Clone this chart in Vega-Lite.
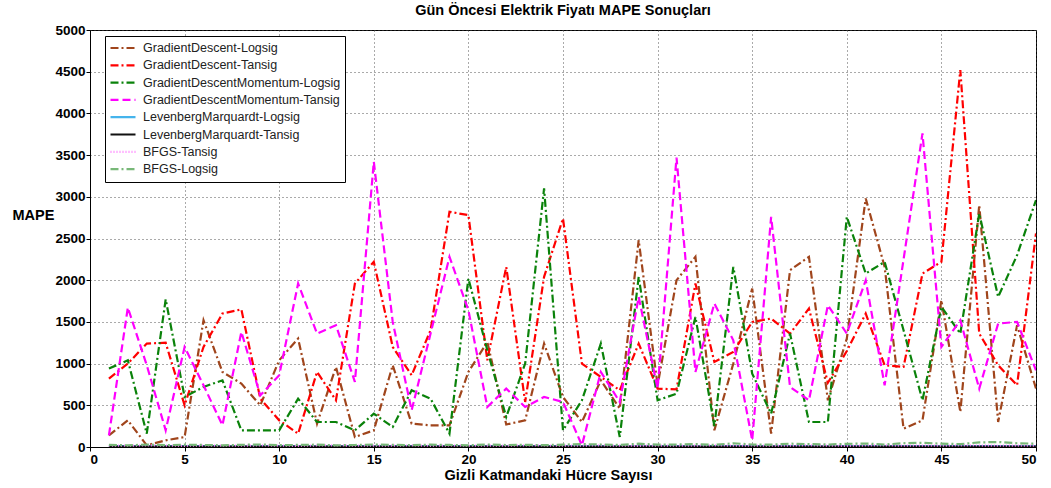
{
  "$schema": "https://vega.github.io/schema/vega-lite/v6.json",
  "width": 946,
  "height": 417,
  "autosize": {"type": "none"},
  "padding": {"left": 90, "top": 30, "right": 15, "bottom": 41},
  "background": "white",
  "config": {
    "view": {"stroke": "black", "strokeWidth": 1},
    "font": "Liberation Sans"
  },
  "title": {"text": "Gün Öncesi Elektrik Fiyatı MAPE Sonuçları", "fontSize": 14.5, "font": "Liberation Sans", "fontWeight": "bold", "offset": 5, "anchor": "middle", "color": "black"},
  "data": {"values": [
    {"x":1,"GradientDescent-Logsig":140,"GradientDescent-Tansig":820,"GradientDescentMomentum-Logsig":940,"GradientDescentMomentum-Tansig":140,"LevenbergMarquardt-Logsig":12,"LevenbergMarquardt-Tansig":5,"BFGS-Tansig":18,"BFGS-Logsig":25},
    {"x":2,"GradientDescent-Logsig":320,"GradientDescent-Tansig":1000,"GradientDescentMomentum-Logsig":1040,"GradientDescentMomentum-Tansig":1672,"LevenbergMarquardt-Logsig":10,"LevenbergMarquardt-Tansig":4,"BFGS-Tansig":15,"BFGS-Logsig":20},
    {"x":3,"GradientDescent-Logsig":20,"GradientDescent-Tansig":1240,"GradientDescentMomentum-Logsig":160,"GradientDescentMomentum-Tansig":980,"LevenbergMarquardt-Logsig":8,"LevenbergMarquardt-Tansig":6,"BFGS-Tansig":20,"BFGS-Logsig":30},
    {"x":4,"GradientDescent-Logsig":80,"GradientDescent-Tansig":1250,"GradientDescentMomentum-Logsig":1770,"GradientDescentMomentum-Tansig":200,"LevenbergMarquardt-Logsig":9,"LevenbergMarquardt-Tansig":5,"BFGS-Tansig":16,"BFGS-Logsig":22},
    {"x":5,"GradientDescent-Logsig":120,"GradientDescent-Tansig":500,"GradientDescentMomentum-Logsig":600,"GradientDescentMomentum-Tansig":1200,"LevenbergMarquardt-Logsig":11,"LevenbergMarquardt-Tansig":4,"BFGS-Tansig":14,"BFGS-Logsig":28},
    {"x":6,"GradientDescent-Logsig":1520,"GradientDescent-Tansig":1200,"GradientDescentMomentum-Logsig":720,"GradientDescentMomentum-Tansig":740,"LevenbergMarquardt-Logsig":10,"LevenbergMarquardt-Tansig":5,"BFGS-Tansig":18,"BFGS-Logsig":24},
    {"x":7,"GradientDescent-Logsig":900,"GradientDescent-Tansig":1600,"GradientDescentMomentum-Logsig":800,"GradientDescentMomentum-Tansig":260,"LevenbergMarquardt-Logsig":9,"LevenbergMarquardt-Tansig":6,"BFGS-Tansig":17,"BFGS-Logsig":20},
    {"x":8,"GradientDescent-Logsig":760,"GradientDescent-Tansig":1650,"GradientDescentMomentum-Logsig":200,"GradientDescentMomentum-Tansig":1380,"LevenbergMarquardt-Logsig":8,"LevenbergMarquardt-Tansig":4,"BFGS-Tansig":15,"BFGS-Logsig":26},
    {"x":9,"GradientDescent-Logsig":500,"GradientDescent-Tansig":580,"GradientDescentMomentum-Logsig":200,"GradientDescentMomentum-Tansig":620,"LevenbergMarquardt-Logsig":10,"LevenbergMarquardt-Tansig":5,"BFGS-Tansig":19,"BFGS-Logsig":30},
    {"x":10,"GradientDescent-Logsig":1040,"GradientDescent-Tansig":320,"GradientDescentMomentum-Logsig":200,"GradientDescentMomentum-Tansig":860,"LevenbergMarquardt-Logsig":12,"LevenbergMarquardt-Tansig":5,"BFGS-Tansig":16,"BFGS-Logsig":22},
    {"x":11,"GradientDescent-Logsig":1300,"GradientDescent-Tansig":160,"GradientDescentMomentum-Logsig":580,"GradientDescentMomentum-Tansig":1960,"LevenbergMarquardt-Logsig":9,"LevenbergMarquardt-Tansig":4,"BFGS-Tansig":14,"BFGS-Logsig":25},
    {"x":12,"GradientDescent-Logsig":280,"GradientDescent-Tansig":900,"GradientDescentMomentum-Logsig":300,"GradientDescentMomentum-Tansig":1360,"LevenbergMarquardt-Logsig":8,"LevenbergMarquardt-Tansig":6,"BFGS-Tansig":18,"BFGS-Logsig":28},
    {"x":13,"GradientDescent-Logsig":960,"GradientDescent-Tansig":560,"GradientDescentMomentum-Logsig":300,"GradientDescentMomentum-Tansig":1460,"LevenbergMarquardt-Logsig":10,"LevenbergMarquardt-Tansig":5,"BFGS-Tansig":20,"BFGS-Logsig":20},
    {"x":14,"GradientDescent-Logsig":120,"GradientDescent-Tansig":1960,"GradientDescentMomentum-Logsig":200,"GradientDescentMomentum-Tansig":780,"LevenbergMarquardt-Logsig":11,"LevenbergMarquardt-Tansig":4,"BFGS-Tansig":15,"BFGS-Logsig":24},
    {"x":15,"GradientDescent-Logsig":200,"GradientDescent-Tansig":2220,"GradientDescentMomentum-Logsig":400,"GradientDescentMomentum-Tansig":3420,"LevenbergMarquardt-Logsig":9,"LevenbergMarquardt-Tansig":5,"BFGS-Tansig":17,"BFGS-Logsig":30},
    {"x":16,"GradientDescent-Logsig":980,"GradientDescent-Tansig":1200,"GradientDescentMomentum-Logsig":240,"GradientDescentMomentum-Tansig":1500,"LevenbergMarquardt-Logsig":10,"LevenbergMarquardt-Tansig":6,"BFGS-Tansig":16,"BFGS-Logsig":26},
    {"x":17,"GradientDescent-Logsig":280,"GradientDescent-Tansig":860,"GradientDescentMomentum-Logsig":680,"GradientDescentMomentum-Tansig":440,"LevenbergMarquardt-Logsig":12,"LevenbergMarquardt-Tansig":5,"BFGS-Tansig":19,"BFGS-Logsig":22},
    {"x":18,"GradientDescent-Logsig":260,"GradientDescent-Tansig":1400,"GradientDescentMomentum-Logsig":580,"GradientDescentMomentum-Tansig":1360,"LevenbergMarquardt-Logsig":10,"LevenbergMarquardt-Tansig":4,"BFGS-Tansig":14,"BFGS-Logsig":28},
    {"x":19,"GradientDescent-Logsig":260,"GradientDescent-Tansig":2820,"GradientDescentMomentum-Logsig":160,"GradientDescentMomentum-Tansig":2280,"LevenbergMarquardt-Logsig":9,"LevenbergMarquardt-Tansig":5,"BFGS-Tansig":18,"BFGS-Logsig":25},
    {"x":20,"GradientDescent-Logsig":900,"GradientDescent-Tansig":2780,"GradientDescentMomentum-Logsig":2020,"GradientDescentMomentum-Tansig":1640,"LevenbergMarquardt-Logsig":11,"LevenbergMarquardt-Tansig":6,"BFGS-Tansig":15,"BFGS-Logsig":20},
    {"x":21,"GradientDescent-Logsig":1260,"GradientDescent-Tansig":1040,"GradientDescentMomentum-Logsig":1160,"GradientDescentMomentum-Tansig":480,"LevenbergMarquardt-Logsig":10,"LevenbergMarquardt-Tansig":5,"BFGS-Tansig":17,"BFGS-Logsig":30},
    {"x":22,"GradientDescent-Logsig":270,"GradientDescent-Tansig":2160,"GradientDescentMomentum-Logsig":360,"GradientDescentMomentum-Tansig":700,"LevenbergMarquardt-Logsig":8,"LevenbergMarquardt-Tansig":4,"BFGS-Tansig":16,"BFGS-Logsig":24},
    {"x":23,"GradientDescent-Logsig":320,"GradientDescent-Tansig":540,"GradientDescentMomentum-Logsig":1000,"GradientDescentMomentum-Tansig":480,"LevenbergMarquardt-Logsig":12,"LevenbergMarquardt-Tansig":6,"BFGS-Tansig":20,"BFGS-Logsig":26},
    {"x":24,"GradientDescent-Logsig":1240,"GradientDescent-Tansig":2040,"GradientDescentMomentum-Logsig":3100,"GradientDescentMomentum-Tansig":600,"LevenbergMarquardt-Logsig":10,"LevenbergMarquardt-Tansig":5,"BFGS-Tansig":18,"BFGS-Logsig":22},
    {"x":25,"GradientDescent-Logsig":600,"GradientDescent-Tansig":2740,"GradientDescentMomentum-Logsig":200,"GradientDescentMomentum-Tansig":540,"LevenbergMarquardt-Logsig":9,"LevenbergMarquardt-Tansig":4,"BFGS-Tansig":15,"BFGS-Logsig":28},
    {"x":26,"GradientDescent-Logsig":300,"GradientDescent-Tansig":1000,"GradientDescentMomentum-Logsig":560,"GradientDescentMomentum-Tansig":20,"LevenbergMarquardt-Logsig":11,"LevenbergMarquardt-Tansig":5,"BFGS-Tansig":17,"BFGS-Logsig":35},
    {"x":27,"GradientDescent-Logsig":800,"GradientDescent-Tansig":840,"GradientDescentMomentum-Logsig":1240,"GradientDescentMomentum-Tansig":900,"LevenbergMarquardt-Logsig":10,"LevenbergMarquardt-Tansig":6,"BFGS-Tansig":19,"BFGS-Logsig":30},
    {"x":28,"GradientDescent-Logsig":460,"GradientDescent-Tansig":680,"GradientDescentMomentum-Logsig":120,"GradientDescentMomentum-Tansig":540,"LevenbergMarquardt-Logsig":9,"LevenbergMarquardt-Tansig":5,"BFGS-Tansig":16,"BFGS-Logsig":25},
    {"x":29,"GradientDescent-Logsig":2480,"GradientDescent-Tansig":1240,"GradientDescentMomentum-Logsig":2040,"GradientDescentMomentum-Tansig":1800,"LevenbergMarquardt-Logsig":8,"LevenbergMarquardt-Tansig":4,"BFGS-Tansig":14,"BFGS-Logsig":40},
    {"x":30,"GradientDescent-Logsig":740,"GradientDescent-Tansig":700,"GradientDescentMomentum-Logsig":560,"GradientDescentMomentum-Tansig":700,"LevenbergMarquardt-Logsig":10,"LevenbergMarquardt-Tansig":5,"BFGS-Tansig":18,"BFGS-Logsig":28},
    {"x":31,"GradientDescent-Logsig":2000,"GradientDescent-Tansig":690,"GradientDescentMomentum-Logsig":640,"GradientDescentMomentum-Tansig":3470,"LevenbergMarquardt-Logsig":11,"LevenbergMarquardt-Tansig":6,"BFGS-Tansig":15,"BFGS-Logsig":30},
    {"x":32,"GradientDescent-Logsig":2280,"GradientDescent-Tansig":1960,"GradientDescentMomentum-Logsig":1560,"GradientDescentMomentum-Tansig":900,"LevenbergMarquardt-Logsig":9,"LevenbergMarquardt-Tansig":4,"BFGS-Tansig":17,"BFGS-Logsig":35},
    {"x":33,"GradientDescent-Logsig":200,"GradientDescent-Tansig":1020,"GradientDescentMomentum-Logsig":250,"GradientDescentMomentum-Tansig":1720,"LevenbergMarquardt-Logsig":10,"LevenbergMarquardt-Tansig":5,"BFGS-Tansig":20,"BFGS-Logsig":25},
    {"x":34,"GradientDescent-Logsig":1000,"GradientDescent-Tansig":1140,"GradientDescentMomentum-Logsig":2160,"GradientDescentMomentum-Tansig":1280,"LevenbergMarquardt-Logsig":12,"LevenbergMarquardt-Tansig":5,"BFGS-Tansig":16,"BFGS-Logsig":45},
    {"x":35,"GradientDescent-Logsig":1900,"GradientDescent-Tansig":1500,"GradientDescentMomentum-Logsig":880,"GradientDescentMomentum-Tansig":80,"LevenbergMarquardt-Logsig":10,"LevenbergMarquardt-Tansig":4,"BFGS-Tansig":18,"BFGS-Logsig":30},
    {"x":36,"GradientDescent-Logsig":160,"GradientDescent-Tansig":1540,"GradientDescentMomentum-Logsig":400,"GradientDescentMomentum-Tansig":2760,"LevenbergMarquardt-Logsig":9,"LevenbergMarquardt-Tansig":6,"BFGS-Tansig":15,"BFGS-Logsig":28},
    {"x":37,"GradientDescent-Logsig":2120,"GradientDescent-Tansig":1360,"GradientDescentMomentum-Logsig":1360,"GradientDescentMomentum-Tansig":720,"LevenbergMarquardt-Logsig":11,"LevenbergMarquardt-Tansig":5,"BFGS-Tansig":17,"BFGS-Logsig":40},
    {"x":38,"GradientDescent-Logsig":2280,"GradientDescent-Tansig":1660,"GradientDescentMomentum-Logsig":300,"GradientDescentMomentum-Tansig":560,"LevenbergMarquardt-Logsig":10,"LevenbergMarquardt-Tansig":4,"BFGS-Tansig":19,"BFGS-Logsig":35},
    {"x":39,"GradientDescent-Logsig":560,"GradientDescent-Tansig":770,"GradientDescentMomentum-Logsig":300,"GradientDescentMomentum-Tansig":1700,"LevenbergMarquardt-Logsig":8,"LevenbergMarquardt-Tansig":5,"BFGS-Tansig":16,"BFGS-Logsig":30},
    {"x":40,"GradientDescent-Logsig":1300,"GradientDescent-Tansig":1150,"GradientDescentMomentum-Logsig":2760,"GradientDescentMomentum-Tansig":1360,"LevenbergMarquardt-Logsig":10,"LevenbergMarquardt-Tansig":6,"BFGS-Tansig":14,"BFGS-Logsig":38},
    {"x":41,"GradientDescent-Logsig":2980,"GradientDescent-Tansig":1600,"GradientDescentMomentum-Logsig":2080,"GradientDescentMomentum-Tansig":2000,"LevenbergMarquardt-Logsig":12,"LevenbergMarquardt-Tansig":5,"BFGS-Tansig":18,"BFGS-Logsig":42},
    {"x":42,"GradientDescent-Logsig":2160,"GradientDescent-Tansig":980,"GradientDescentMomentum-Logsig":2220,"GradientDescentMomentum-Tansig":740,"LevenbergMarquardt-Logsig":9,"LevenbergMarquardt-Tansig":4,"BFGS-Tansig":20,"BFGS-Logsig":30},
    {"x":43,"GradientDescent-Logsig":220,"GradientDescent-Tansig":960,"GradientDescentMomentum-Logsig":1400,"GradientDescentMomentum-Tansig":2250,"LevenbergMarquardt-Logsig":10,"LevenbergMarquardt-Tansig":5,"BFGS-Tansig":15,"BFGS-Logsig":45},
    {"x":44,"GradientDescent-Logsig":320,"GradientDescent-Tansig":2080,"GradientDescentMomentum-Logsig":560,"GradientDescentMomentum-Tansig":3760,"LevenbergMarquardt-Logsig":11,"LevenbergMarquardt-Tansig":6,"BFGS-Tansig":17,"BFGS-Logsig":50},
    {"x":45,"GradientDescent-Logsig":1760,"GradientDescent-Tansig":2220,"GradientDescentMomentum-Logsig":1680,"GradientDescentMomentum-Tansig":1200,"LevenbergMarquardt-Logsig":9,"LevenbergMarquardt-Tansig":5,"BFGS-Tansig":16,"BFGS-Logsig":40},
    {"x":46,"GradientDescent-Logsig":420,"GradientDescent-Tansig":4520,"GradientDescentMomentum-Logsig":1360,"GradientDescentMomentum-Tansig":1520,"LevenbergMarquardt-Logsig":10,"LevenbergMarquardt-Tansig":4,"BFGS-Tansig":19,"BFGS-Logsig":35},
    {"x":47,"GradientDescent-Logsig":2900,"GradientDescent-Tansig":1360,"GradientDescentMomentum-Logsig":2800,"GradientDescentMomentum-Tansig":700,"LevenbergMarquardt-Logsig":12,"LevenbergMarquardt-Tansig":6,"BFGS-Tansig":18,"BFGS-Logsig":55},
    {"x":48,"GradientDescent-Logsig":300,"GradientDescent-Tansig":980,"GradientDescentMomentum-Logsig":1800,"GradientDescentMomentum-Tansig":1480,"LevenbergMarquardt-Logsig":10,"LevenbergMarquardt-Tansig":5,"BFGS-Tansig":15,"BFGS-Logsig":60},
    {"x":49,"GradientDescent-Logsig":1460,"GradientDescent-Tansig":740,"GradientDescentMomentum-Logsig":2300,"GradientDescentMomentum-Tansig":1500,"LevenbergMarquardt-Logsig":9,"LevenbergMarquardt-Tansig":4,"BFGS-Tansig":17,"BFGS-Logsig":45},
    {"x":50,"GradientDescent-Logsig":700,"GradientDescent-Tansig":2560,"GradientDescentMomentum-Logsig":2960,"GradientDescentMomentum-Tansig":920,"LevenbergMarquardt-Logsig":11,"LevenbergMarquardt-Tansig":5,"BFGS-Tansig":16,"BFGS-Logsig":40}
  ]},
  "transform": [
    {"fold": ["GradientDescent-Logsig","GradientDescent-Tansig","GradientDescentMomentum-Logsig","GradientDescentMomentum-Tansig","LevenbergMarquardt-Logsig","LevenbergMarquardt-Tansig","BFGS-Tansig","BFGS-Logsig"], "as": ["seri", "MAPE"]}
  ],
  "mark": {"type": "line", "clip": true},
  "encoding": {
    "x": {
      "field": "x", "type": "quantitative",
      "scale": {"domain": [0, 50], "nice": false, "zero": false},
      "axis": {
        "values": [0,5,10,15,20,25,30,35,40,45,50],
        "format": "d",
        "title": "Gizli Katmandaki Hücre Sayısı",
        "titleFont": "Liberation Sans", "titleFontSize": 14.5, "titleFontWeight": "bold", "titleColor": "black",
        "titleX": 458, "titleY": 28, "titleBaseline": "middle",
        "labelFont": "Liberation Sans", "labelFontSize": 13.5, "labelFontWeight": "bold", "labelColor": "black",
        "labelPadding": 1, "tickSize": 4, "tickColor": "black", "domainColor": "black",
        "grid": true, "gridDash": [1, 3], "gridColor": "#444", "gridOpacity": 0.9
      }
    },
    "y": {
      "field": "MAPE", "type": "quantitative",
      "scale": {"domain": [0, 5000], "nice": false},
      "axis": {
        "values": [0,500,1000,1500,2000,2500,3000,3500,4000,4500,5000],
        "format": "d",
        "title": "MAPE",
        "titleFont": "Liberation Sans", "titleFontSize": 14.5, "titleFontWeight": "bold", "titleColor": "black",
        "titleAngle": 0, "titleAlign": "left", "titleBaseline": "middle", "titleX": -78, "titleY": 185,
        "labelFont": "Liberation Sans", "labelFontSize": 13.5, "labelFontWeight": "bold", "labelColor": "black",
        "labelPadding": 1, "tickSize": 4, "tickColor": "black", "domainColor": "black",
        "grid": true, "gridDash": [1, 3], "gridColor": "#444", "gridOpacity": 0.9
      }
    },
    "color": {
      "field": "seri", "type": "nominal",
      "scale": {
        "domain": ["GradientDescent-Logsig","GradientDescent-Tansig","GradientDescentMomentum-Logsig","GradientDescentMomentum-Tansig","LevenbergMarquardt-Logsig","LevenbergMarquardt-Tansig","BFGS-Tansig","BFGS-Logsig"],
        "range": ["#A0451C","#FF0000","#0A820A","#FF00FF","#45B4EC","#111111","#FF80FF","#78B878"]
      },
      "legend": {
        "title": null, "orient": "none", "legendX": 15, "legendY": 6,
        "fillColor": "white", "strokeColor": "black", "padding": 4,
        "symbolType": "stroke", "symbolSize": 625, "symbolStrokeWidth": 2,
        "labelFont": "Liberation Sans", "labelFontSize": 12.5, "labelColor": "#222",
        "labelOffset": 6, "rowPadding": 1.3, "clipHeight": 16, "labelLimit": 400
      }
    },
    "strokeDash": {
      "field": "seri", "type": "nominal",
      "scale": {
        "domain": ["GradientDescent-Logsig","GradientDescent-Tansig","GradientDescentMomentum-Logsig","GradientDescentMomentum-Tansig","LevenbergMarquardt-Logsig","LevenbergMarquardt-Tansig","BFGS-Tansig","BFGS-Logsig"],
        "range": [[8,3,2,3],[8,3,2,3],[8,3,2,3],[8,4],[1,0],[1,0],[1,2],[8,3,2,3]]
      },
      "legend": {
        "title": null, "orient": "none", "legendX": 15, "legendY": 6,
        "fillColor": "white", "strokeColor": "black", "padding": 4,
        "symbolType": "stroke", "symbolSize": 625, "symbolStrokeWidth": 2,
        "labelFont": "Liberation Sans", "labelFontSize": 12.5, "labelColor": "#222",
        "labelOffset": 6, "rowPadding": 1.3, "clipHeight": 16, "labelLimit": 400
      }
    },
    "strokeWidth": {
      "field": "seri", "type": "nominal",
      "scale": {
        "domain": ["GradientDescent-Logsig","GradientDescent-Tansig","GradientDescentMomentum-Logsig","GradientDescentMomentum-Tansig","LevenbergMarquardt-Logsig","LevenbergMarquardt-Tansig","BFGS-Tansig","BFGS-Logsig"],
        "range": [2.2,2.2,2.2,2.2,1.2,1.2,1.2,1.2]
      },
      "legend": null
    }
  }
}
